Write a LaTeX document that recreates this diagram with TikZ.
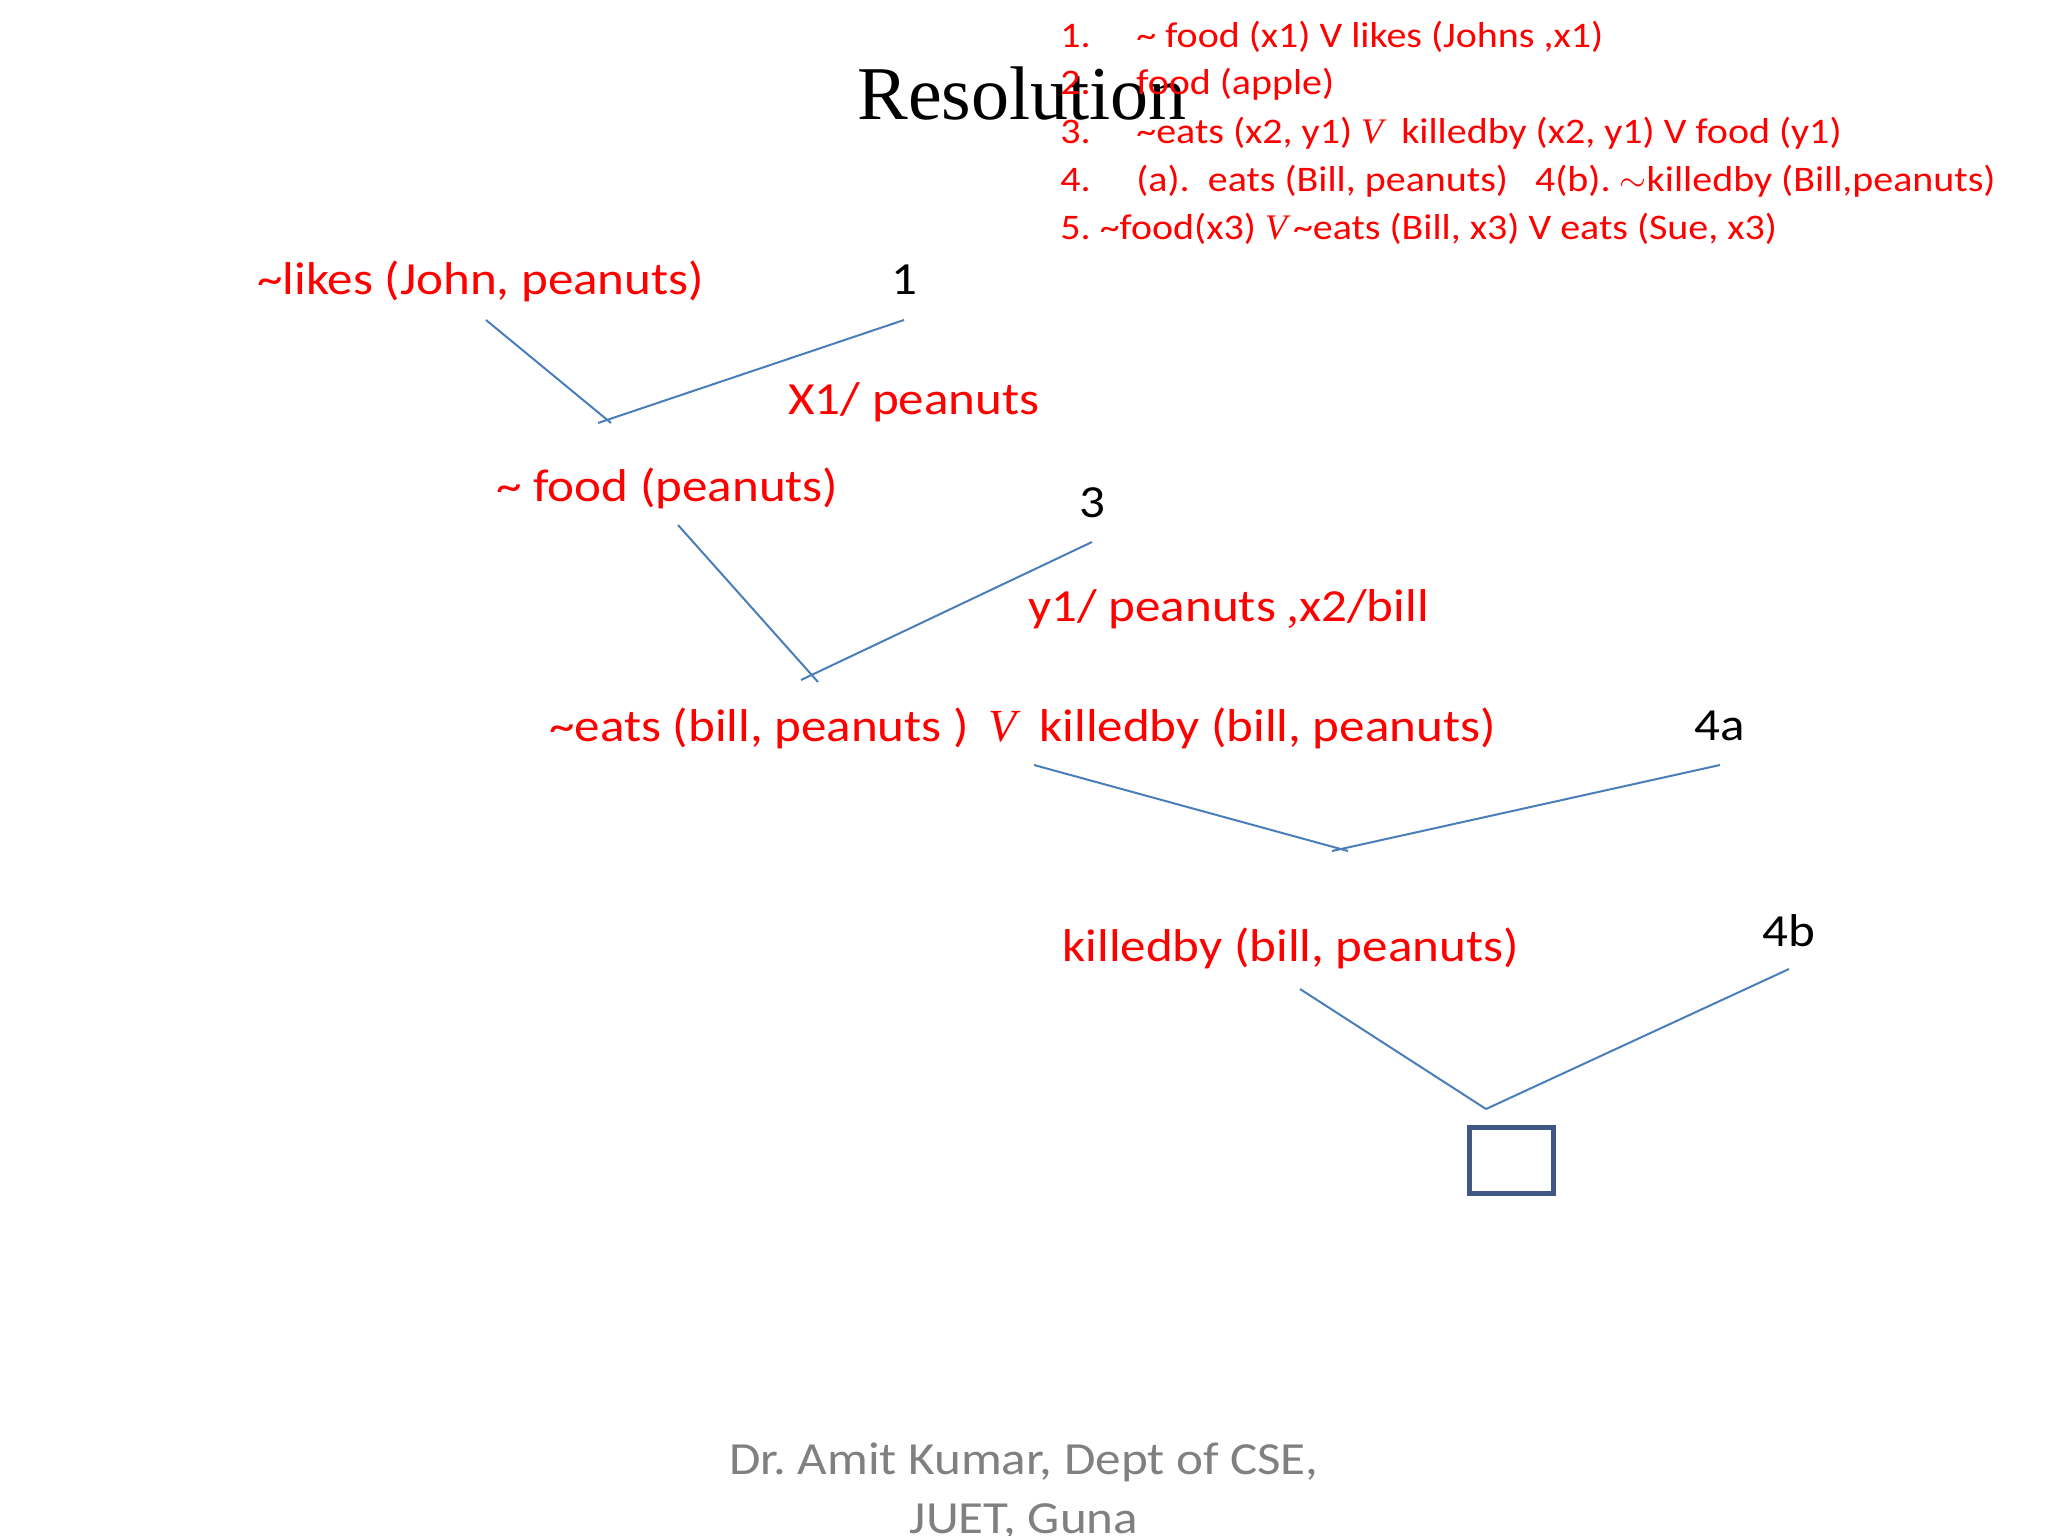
\documentclass[tikz,border=0pt]{standalone}
\usepackage{fontspec}
\setmainfont{Carlito}[FakeStretch=1.11]
\newfontfamily\titlefont{Liberation Serif}
\usepackage{tikz}

\definecolor{linkblue}{RGB}{74,126,187}
\definecolor{boxblue}{RGB}{63,87,130}
\definecolor{footgray}{RGB}{128,128,128}

\newcommand{\sneg}{\textasciitilde}
\newcommand{\orv}{{\titlefont\itshape V}}
\newcommand{\tabnum}[1]{\makebox[38pt][l]{#1}}

\begin{document}
\frenchspacing
\begin{tikzpicture}[x=0.5pt,y=-0.5pt]
  \tikzset{clause/.style = {text=red, anchor=base west, inner sep=0pt, font=\fontsize{23}{27}\selectfont}}
  \tikzset{num/.style = {text=black, anchor=base, inner sep=0pt, font=\fontsize{23}{27}\selectfont}}
  \tikzset{given/.style = {text=red, anchor=base west, inner sep=0pt, font=\fontsize{18}{21}\selectfont}}
  \tikzset{link/.style = {draw=linkblue, line width=1pt}}
  \tikzset{emptybox/.style = {draw=boxblue, line width=2.5pt, minimum width=42pt, minimum height=33pt, inner sep=0pt}}

  \useasboundingbox[fill=white] (0,0) rectangle (2048,1535);

\node[font=\titlefont\fontsize{38}{44}\selectfont, inner sep=0pt] (title) at (1022,94) {Resolution};

\node[given] (g1) at (1060,48) {\tabnum{1.}\sneg{} food (x1) V likes (Johns ,x1)};
\node[given] (g2) at (1060,95) {\tabnum{2.}food (apple)};
\node[given] (g3) at (1060,144) {\tabnum{3.}\sneg eats (x2, y1) \orv{}\ \ killedby (x2, y1) V food (y1)};
\node[given] (g4) at (1060,192) {\tabnum{4.}(a).\ \ eats (Bill, peanuts)\ \ \ 4(b). $\sim$killedby (Bill,peanuts)};
\node[given] (g5) at (1060,240) {5. \sneg food(x3) \orv\,\sneg eats (Bill, x3) V eats (Sue, x3)};

\node[clause] (likes) at (257,295) {\sneg likes (John, peanuts)};
\node[num] (n1) at (904,295) {1};
\node[clause] (sub1) at (788,414) {X1/ peanuts};
\node[clause] (food) at (496,501) {\sneg{} food (peanuts)};
\node[num] (n3) at (1092,517) {3};
\node[clause] (sub2) at (1028,621) {y1/ peanuts {\titlefont,}x2/bill};
\node[clause] (eats) at (549,741) {\sneg eats (bill, peanuts )\ \,\orv\ \ killedby (bill, peanuts)};
\node[num] (n4a) at (1720,740) {4a};
\node[clause] (killed) at (1062,961) {killedby (bill, peanuts)};
\node[num] (n4b) at (1789,946) {4b};
\node[emptybox] (empty) at (1511,1160) {};

\coordinate (l1) at (486,320);
\coordinate (r1) at (904,320);
\coordinate (l1e) at (611,423);
\coordinate (r1e) at (598,423);
\coordinate (l2) at (678,525);
\coordinate (r2) at (1092,542);
\coordinate (l2e) at (818,682);
\coordinate (r2e) at (801,680);
\coordinate (l3) at (1034,765);
\coordinate (r3) at (1720,765);
\coordinate (l3e) at (1348,851);
\coordinate (r3e) at (1332,851);
\coordinate (l4) at (1300,989);
\coordinate (r4) at (1789,969);
\coordinate (j4) at (1486,1109);

    \path (l1) edge[link] (l1e);
    \path (r1) edge[link] (r1e);

    \path (l2) edge[link] (l2e);
    \path (r2) edge[link] (r2e);

    \path (l3) edge[link] (l3e);
    \path (r3) edge[link] (r3e);

    \path (l4) edge[link] (j4);
    \path (r4) edge[link] (j4);

\node[text=footgray, anchor=base, inner sep=0pt, font=\fontsize{23}{27}\selectfont] (foot1) at (1024,1474) {Dr. Amit Kumar, Dept of CSE,};
\node[text=footgray, anchor=base, inner sep=0pt, font=\fontsize{23}{27}\selectfont] (foot2) at (1024,1533) {JUET, Guna};

\end{tikzpicture}
\end{document}
